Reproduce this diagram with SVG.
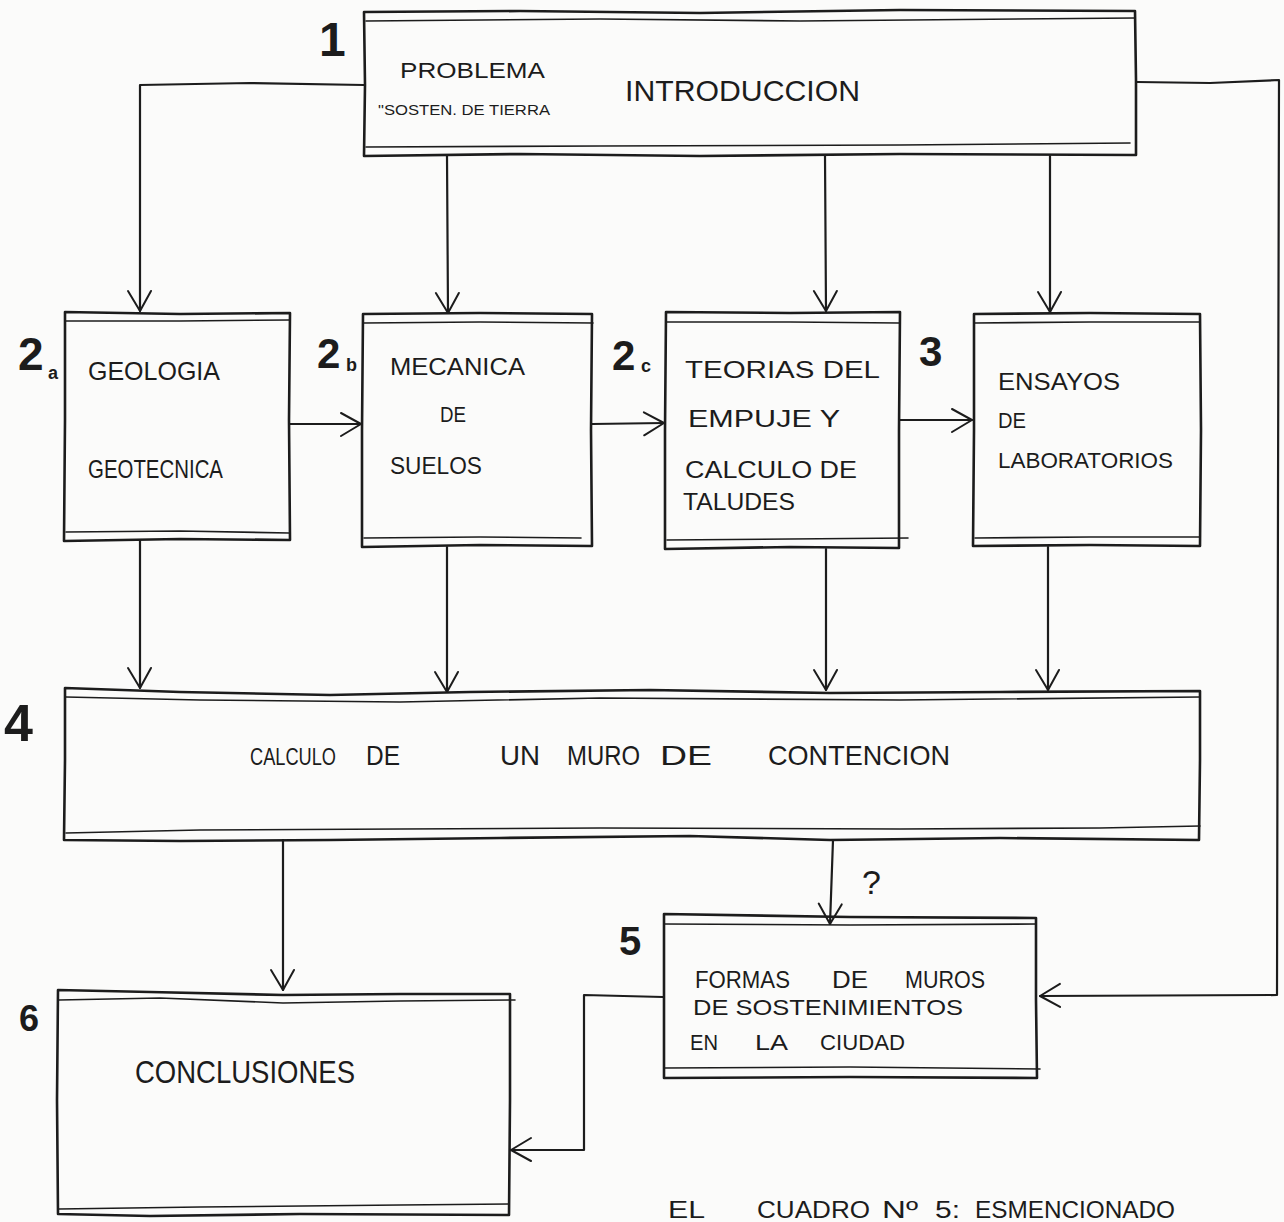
<svg xmlns="http://www.w3.org/2000/svg" width="1284" height="1222" viewBox="0 0 1284 1222">
  <style>
    .edge { fill: none; stroke: #1c1c1c; stroke-width: 2.6; stroke-linejoin: round; stroke-linecap: round; }
    .rule { fill: none; stroke: #1c1c1c; stroke-width: 1.6; stroke-linecap: round; }
    .wire { fill: none; stroke: #1c1c1c; stroke-width: 2.2; stroke-linejoin: round; stroke-linecap: round; }
    .txt { font-family: "Liberation Sans", Arial, sans-serif; fill: #1c1c1c; }
    .num { font-family: "Liberation Sans", Arial, sans-serif; font-weight: bold; fill: #1c1c1c; }
  </style>
  <defs>
    <!-- open V arrowhead, as drawn by hand -->
    <marker id="arrow" viewBox="-22 -14 24 28" markerWidth="24" markerHeight="28" refX="0" refY="0" orient="auto" markerUnits="userSpaceOnUse">
      <path d="M-20,-11 L0,0 L-20,12" fill="none" stroke="#1c1c1c" stroke-width="2" stroke-linecap="round" stroke-linejoin="round"/>
    </marker>
  </defs>

  <rect width="1284" height="1222" fill="#fbfbfa"/>

  <!-- connectors -->
  <g id="connectors">
    <path class="wire" d="M364,85 L250,83 L140,85 L140,311" marker-end="url(#arrow)"/>
    <path class="wire" d="M447,156 L448,313" marker-end="url(#arrow)"/>
    <path class="wire" d="M825,156 L826,311" marker-end="url(#arrow)"/>
    <path class="wire" d="M1050,156 L1050,312" marker-end="url(#arrow)"/>
    <path class="wire" d="M1137,82 L1210,83 L1279,80 L1278,500 L1277,995 L1040,996" marker-end="url(#arrow)"/>
    <path class="wire" d="M290,424 L361,424" marker-end="url(#arrow)"/>
    <path class="wire" d="M592,424 L664,423" marker-end="url(#arrow)"/>
    <path class="wire" d="M900,420 L972,420" marker-end="url(#arrow)"/>
    <path class="wire" d="M140,540 L140,688" marker-end="url(#arrow)"/>
    <path class="wire" d="M447,547 L447,692" marker-end="url(#arrow)"/>
    <path class="wire" d="M826,549 L826,690" marker-end="url(#arrow)"/>
    <path class="wire" d="M1048,547 L1048,690" marker-end="url(#arrow)"/>
    <path class="wire" d="M283,840 L283,990" marker-end="url(#arrow)"/>
    <path class="wire" d="M833,840 L830,924" marker-end="url(#arrow)"/>
    <path class="wire" d="M663,997 L584,995 L584,1150 L511,1150" marker-end="url(#arrow)"/>
    <text class="txt" x="862" y="894" font-size="34">?</text>
  </g>

  <!-- 1: introduction -->
  <g id="node-1">
    <path class="edge" d="M364,12 L520,11 L700,13 L900,10 L1135,11 L1136,80 L1136,155 L900,154 L700,156 L520,154 L364,156 L365,85 Z"/>
    <path class="rule" d="M366,21 L600,19 L800,21 L1135,18"/>
    <path class="rule" d="M366,147 L600,146 L900,145 L1130,143"/>
    <text class="num" x="319" y="56" font-size="48">1</text>
    <text class="txt" x="400" y="78" font-size="22" textLength="145" lengthAdjust="spacingAndGlyphs">PROBLEMA</text>
    <text class="txt" x="378" y="115" font-size="15" textLength="172" lengthAdjust="spacingAndGlyphs">"SOSTEN. DE TIERRA</text>
    <text class="txt" x="625" y="101" font-size="30" textLength="235" lengthAdjust="spacingAndGlyphs">INTRODUCCION</text>
  </g>

  <!-- 2a: geology -->
  <g id="node-2a">
    <path class="edge" d="M65,312 L180,314 L290,313 L289,420 L290,540 L180,539 L64,541 L65,420 Z"/>
    <path class="rule" d="M66,321 L180,321 L289,320"/>
    <path class="rule" d="M66,532 L180,531 L289,533"/>
    <text class="num" x="18" y="370" font-size="46">2</text>
    <text class="num" x="48" y="379" font-size="18">a</text>
    <text class="txt" x="88" y="380" font-size="26" textLength="132" lengthAdjust="spacingAndGlyphs">GEOLOGIA</text>
    <text class="txt" x="88" y="478" font-size="26" textLength="135" lengthAdjust="spacingAndGlyphs">GEOTECNICA</text>
  </g>

  <!-- 2b: soil mechanics -->
  <g id="node-2b">
    <path class="edge" d="M363,314 L480,313 L592,314 L591,430 L592,546 L480,545 L362,547 L362,430 Z"/>
    <path class="rule" d="M364,323 L480,322 L593,323"/>
    <path class="rule" d="M364,538 L480,537 L581,538"/>
    <text class="num" x="317" y="368" font-size="42">2</text>
    <text class="num" x="346" y="371" font-size="18">b</text>
    <text class="txt" x="390" y="375" font-size="24" textLength="135" lengthAdjust="spacingAndGlyphs">MECANICA</text>
    <text class="txt" x="440" y="422" font-size="22" textLength="26" lengthAdjust="spacingAndGlyphs">DE</text>
    <text class="txt" x="390" y="474" font-size="24" textLength="92" lengthAdjust="spacingAndGlyphs">SUELOS</text>
  </g>

  <!-- 2c: earth pressure theories -->
  <g id="node-2c">
    <path class="edge" d="M666,312 L790,313 L900,312 L899,430 L899,548 L790,547 L665,549 L665,430 Z"/>
    <path class="rule" d="M667,322 L790,322 L899,323"/>
    <path class="rule" d="M667,540 L790,539 L908,538"/>
    <text class="num" x="612" y="370" font-size="42">2</text>
    <text class="num" x="641" y="372" font-size="18">c</text>
    <text class="txt" x="685" y="378" font-size="24" textLength="195" lengthAdjust="spacingAndGlyphs">TEORIAS  DEL</text>
    <text class="txt" x="688" y="427" font-size="24" textLength="152" lengthAdjust="spacingAndGlyphs">EMPUJE   Y</text>
    <text class="txt" x="685" y="478" font-size="24" textLength="172" lengthAdjust="spacingAndGlyphs">CALCULO  DE</text>
    <text class="txt" x="683" y="510" font-size="24" textLength="112" lengthAdjust="spacingAndGlyphs">TALUDES</text>
  </g>

  <!-- 3: laboratory tests -->
  <g id="node-3">
    <path class="edge" d="M974,314 L1090,313 L1200,314 L1201,430 L1200,546 L1090,545 L973,546 L974,430 Z"/>
    <path class="rule" d="M975,323 L1090,322 L1200,322"/>
    <path class="rule" d="M975,538 L1090,537 L1200,537"/>
    <text class="num" x="919" y="366" font-size="42">3</text>
    <text class="txt" x="998" y="390" font-size="24" textLength="122" lengthAdjust="spacingAndGlyphs">ENSAYOS</text>
    <text class="txt" x="998" y="428" font-size="22" textLength="28" lengthAdjust="spacingAndGlyphs">DE</text>
    <text class="txt" x="998" y="468" font-size="22" textLength="175" lengthAdjust="spacingAndGlyphs">LABORATORIOS</text>
  </g>

  <!-- 4: retaining wall design -->
  <g id="node-4">
    <path class="edge" d="M65,688 L180,692 L330,695 L470,692 L650,690 L830,693 L1000,692 L1200,691 L1200,760 L1199,840 L1000,838 L830,840 L690,836 L500,838 L330,840 L180,841 L64,840 L65,760 Z"/>
    <path class="rule" d="M66,697 L200,700 L400,702 L600,698 L900,700 L1200,697"/>
    <path class="rule" d="M66,833 L200,830 L400,829 L600,828 L900,829 L1100,828 L1200,826"/>
    <text class="num" x="4" y="741" font-size="52">4</text>
    <text class="txt" x="250" y="765" font-size="24" textLength="86" lengthAdjust="spacingAndGlyphs">CALCULO</text>
    <text class="txt" x="366" y="765" font-size="28" textLength="34" lengthAdjust="spacingAndGlyphs">DE</text>
    <text class="txt" x="500" y="765" font-size="28" textLength="40" lengthAdjust="spacingAndGlyphs">UN</text>
    <text class="txt" x="567" y="765" font-size="28" textLength="73" lengthAdjust="spacingAndGlyphs">MURO</text>
    <text class="txt" x="660" y="765" font-size="28" textLength="52" lengthAdjust="spacingAndGlyphs">DE</text>
    <text class="txt" x="768" y="765" font-size="28" textLength="182" lengthAdjust="spacingAndGlyphs">CONTENCION</text>
  </g>

  <!-- 5: wall types in the city -->
  <g id="node-5">
    <path class="edge" d="M664,914 L850,917 L1036,918 L1036,1000 L1037,1078 L850,1077 L664,1078 L664,1000 Z"/>
    <path class="rule" d="M665,924 L850,925 L1036,924"/>
    <path class="rule" d="M665,1068 L850,1067 L1040,1069"/>
    <text class="num" x="619" y="955" font-size="40">5</text>
    <text class="txt" x="695" y="988" font-size="24" textLength="95" lengthAdjust="spacingAndGlyphs">FORMAS</text>
    <text class="txt" x="832" y="988" font-size="24" textLength="36" lengthAdjust="spacingAndGlyphs">DE</text>
    <text class="txt" x="905" y="988" font-size="24" textLength="80" lengthAdjust="spacingAndGlyphs">MUROS</text>
    <text class="txt" x="693" y="1015" font-size="22" textLength="270" lengthAdjust="spacingAndGlyphs">DE SOSTENIMIENTOS</text>
    <text class="txt" x="690" y="1050" font-size="22" textLength="28" lengthAdjust="spacingAndGlyphs">EN</text>
    <text class="txt" x="755" y="1050" font-size="22" textLength="33" lengthAdjust="spacingAndGlyphs">LA</text>
    <text class="txt" x="820" y="1050" font-size="22" textLength="85" lengthAdjust="spacingAndGlyphs">CIUDAD</text>
  </g>

  <!-- 6: conclusions -->
  <g id="node-6">
    <path class="edge" d="M58,990 L150,992 L283,995 L400,994 L510,994 L510,1100 L509,1215 L300,1214 L150,1216 L58,1214 L57,1100 Z"/>
    <path class="rule" d="M59,1000 L160,998 L283,1003 L400,1001 L515,1000"/>
    <path class="rule" d="M59,1209 L200,1207 L400,1205 L509,1204"/>
    <text class="num" x="19" y="1031" font-size="36">6</text>
    <text class="txt" x="135" y="1083" font-size="32" textLength="220" lengthAdjust="spacingAndGlyphs">CONCLUSIONES</text>
  </g>

  <!-- footnote -->
  <g id="note">
    <text class="txt" x="668" y="1218" font-size="24" textLength="37" lengthAdjust="spacingAndGlyphs">EL</text>
    <text class="txt" x="757" y="1218" font-size="24" textLength="113" lengthAdjust="spacingAndGlyphs">CUADRO</text>
    <text class="txt" x="882" y="1218" font-size="24" textLength="36" lengthAdjust="spacingAndGlyphs">Nº</text>
    <text class="txt" x="935" y="1218" font-size="24" textLength="25" lengthAdjust="spacingAndGlyphs">5:</text>
    <text class="txt" x="975" y="1218" font-size="24" textLength="200" lengthAdjust="spacingAndGlyphs">ESMENCIONADO</text>
  </g>
</svg>
